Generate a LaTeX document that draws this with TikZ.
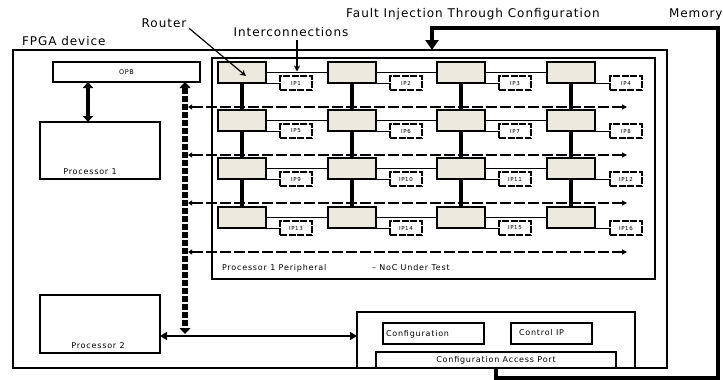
\documentclass[tikz,border=0pt]{standalone}
\usepackage{fontspec}
\setmainfont{DejaVu Sans}
\newfontfamily\spacedbig[LetterSpace=8]{DejaVu Sans}
\newfontfamily\spacedsmall[LetterSpace=10]{DejaVu Sans}
\usetikzlibrary{arrows.meta,calc}
\definecolor{routerfill}{RGB}{236,234,222}
\begin{document}
\begin{tikzpicture}[x=1pt,y=-1pt,
  every node/.style={outer sep=0pt},
  bigtxt/.style={font=\spacedbig\fontsize{12}{14}\selectfont, inner sep=0pt},
  smalltxt/.style={font=\spacedsmall\fontsize{8}{9}\selectfont, inner sep=0pt},
  box/.style={draw, line width=1.2pt, inner sep=0pt},
  router/.style={draw, line width=1.6pt, fill=routerfill, minimum width=48pt, minimum height=21pt, inner sep=0pt},
  ipbox/.style={draw, line width=1.3pt, dash pattern=on 7pt off 1.5pt, minimum width=32pt, minimum height=14pt, inner sep=0pt, font=\spacedsmall\fontsize{5.5}{6}\selectfont},
  link/.style={line width=1pt},
  vlink/.style={line width=3.5pt},
  peri/.style={line width=1.5pt, dash pattern=on 11pt off 3pt, {Triangle[width=5pt,length=4pt]}-{Triangle[width=5pt,length=5pt]}},
  thickarrow/.style={line width=3.5pt, {Triangle[width=10pt,length=6pt]}-{Triangle[width=10pt,length=6pt]}},
  busline/.style={line width=6pt, dash pattern=on 6pt off 2pt, {Triangle[width=11pt,length=6pt]}-{Triangle[width=11pt,length=6pt]}},
  memline/.style={line width=3.5pt, -{Triangle[width=13pt,length=10pt]}},
  callout/.style={line width=1.2pt, -{Stealth[width=6pt,length=6pt]}}
]
\useasboundingbox (0,0) rectangle (723,380);

% labels at top
\node[bigtxt, anchor=west] (fpgalbl) at (22,41) {FPGA device};
\node[bigtxt] (routerlbl) at (164,23) {Router};
\node[bigtxt] (interlbl) at (291,32) {Interconnections};
\node[bigtxt] (faultlbl) at (473,14) {Fault Injection Through Configuration};
\node[bigtxt, anchor=west] (memlbl) at (669,14) {Memory};

% main boxes
\node[box, minimum width=654pt, minimum height=318pt] (fpga) at (340,209) {};
\node[box, minimum width=443pt, minimum height=221pt] (noc) at (433.5,168.5) {};
\node[box, minimum width=147pt, minimum height=20pt, font=\spacedsmall\fontsize{6.5}{7}\selectfont] (opb) at (126.5,72) {OPB};
\node[box, minimum width=120pt, minimum height=57pt] (p1) at (100,150.5) {};
\node[smalltxt] (p1lbl) at (90,172) {Processor 1};
\node[box, minimum width=120pt, minimum height=58pt] (p2) at (100,324) {};
\draw[line width=2.6pt] (p2.north west) -- (p2.south west);
\draw[line width=2.6pt] (p2.north east) -- (p2.south east);
\node[smalltxt] (p2lbl) at (98,346) {Processor 2};

\node[box, minimum width=278pt, minimum height=56pt] (cfgouter) at (496,340) {};
\node[box, line width=1.5pt, minimum width=101pt, minimum height=21pt] (cfg) at (433.5,333.5) {};
\node[smalltxt, anchor=west] (cfglbl) at (386,334) {Configuration};
\node[box, line width=1.5pt, minimum width=81pt, minimum height=21pt] (ctrl) at (551.5,333.5) {};
\node[smalltxt, anchor=west] (ctrllbl) at (519,333) {Control IP};
\node[box, line width=1.5pt, minimum width=240pt, minimum height=16pt, smalltxt] (cap) at (496,360) {Configuration Access Port};

\node[smalltxt, anchor=west] (perilbl) at (222,268) {Processor 1 Peripheral};
\node[smalltxt, anchor=west] (noclbl) at (372,268) {–\ NoC Under Test};

% peripheral bus lines
\foreach \k/\y in {1/107,2/155,3/203,4/252}{
  \coordinate (hl\k) at (188,\y);
  \coordinate (hr\k) at (627,\y);
  \draw[peri] (hl\k) -- (hr\k);
}

% routers
\foreach \i/\y in {1/72.5,2/120.5,3/168.5,4/217.5}
  \foreach \j/\x in {1/242,2/352,3/461,4/571}
    \node[router] (r\i\j) at (\x,\y) {};
% IPs
\foreach \i/\y in {1/83,2/131,3/179,4/228}
  \foreach \j/\x in {1/296,2/406,3/515,4/626}{
    \pgfmathtruncatemacro\ipn{(\i-1)*4+\j}
    \node[ipbox] (ip\i\j) at (\x,\y) {IP\ipn};
  }
% links
\foreach \i in {1,2,3,4}{
  \foreach \j/\k in {1/2,2/3,3/4}
    \draw[link] (r\i\j.east) -- (r\i\k.west);
  \foreach \j in {1,2,3,4}
    \draw[link] (ip\i\j.west) -- (ip\i\j.west -| r\i\j.east);
}
\foreach \i/\k in {1/2,2/3,3/4}
  \foreach \j in {1,2,3,4}
    \draw[vlink] (r\i\j.south) -- (r\k\j.north);

% processor connections
\draw[thickarrow] ([xshift=48pt]p1.north west) -- ([xshift=48pt]p1.north west |- opb.south);
\coordinate (busb) at (185,336);
\draw[line width=1.8pt, {Triangle[width=8pt,length=7pt]}-{Triangle[width=8pt,length=7pt]}] (p2.east |- busb) -- (cfgouter.west |- busb);
\draw[busline] (opb.south -| busb) -- ([yshift=2pt]busb);

% callouts
\draw[callout] ([xshift=3pt,yshift=-1pt]routerlbl.south east) -- ([xshift=4pt,yshift=-3.5pt]r11.center);
\coordinate (linkmid) at ($(r11.east)!0.5!(r12.west)$);
\draw[callout] (interlbl.south -| linkmid) ++(0,3) -- ([yshift=1pt]linkmid);

% memory line
\coordinate (mbot) at (496,378);
\coordinate (mtop) at (718,28);
\coordinate (mfault) at (432,50);
\draw[memline] (cap.south -| mbot) -- (mbot) -| (mtop) -| (mfault);
\end{tikzpicture}
\end{document}
